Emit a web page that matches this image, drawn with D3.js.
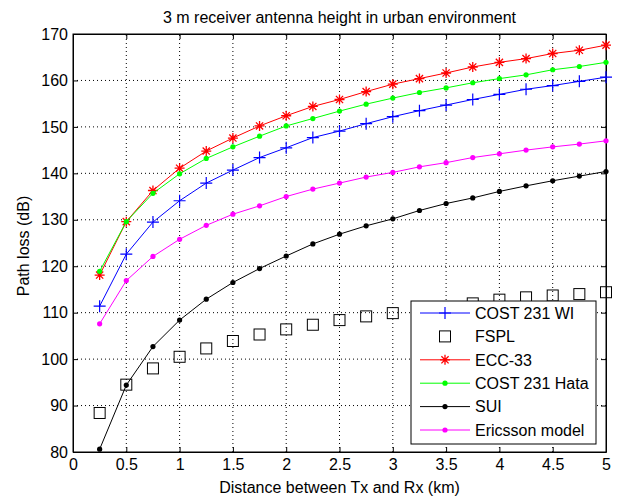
<!DOCTYPE html>
<html>
<head>
<meta charset="utf-8">
<script src="https://cdn.jsdelivr.net/npm/d3@7"></script>
<style>
  body { margin: 0; background: #fff; }
  svg { display: block; }
  text { font-family: "Liberation Sans", Arial, sans-serif; fill: #000; }
</style>
</head>
<body>
<svg id="chart" width="621" height="497"></svg>
<script>
// distances (km)
const distances = [0.25, 0.5, 0.75, 1, 1.25, 1.5, 1.75, 2, 2.25, 2.5, 2.75, 3, 3.25, 3.5, 3.75, 4, 4.25, 4.5, 4.75, 5];

// path loss values (dB)
const cost231WI = [111.4, 122.6, 129.5, 134.1, 137.9, 140.7, 143.4, 145.5, 147.7, 149.1, 150.7, 152.2, 153.5, 154.7, 155.9, 157.0, 158.1, 158.9, 159.8, 160.7];
const fspl = [88.4, 94.5, 98.0, 100.5, 102.3, 103.9, 105.3, 106.4, 107.4, 108.4, 109.2, 109.9, 110.6, 111.2, 112.0, 112.8, 113.3, 113.7, 114.0, 114.4];
const ecc33 = [118.1, 129.6, 136.3, 141.1, 144.8, 147.6, 150.2, 152.4, 154.4, 155.9, 157.6, 159.2, 160.4, 161.6, 162.9, 163.9, 164.7, 165.8, 166.5, 167.6];
const cost231Hata = [118.9, 129.6, 135.7, 139.9, 143.2, 145.7, 148.0, 150.2, 151.8, 153.4, 154.9, 156.2, 157.4, 158.4, 159.5, 160.4, 161.2, 162.3, 163.0, 163.9];
const sui = [80.6, 94.4, 102.7, 108.4, 112.9, 116.5, 119.5, 122.2, 124.8, 126.9, 128.7, 130.2, 132.0, 133.5, 134.7, 136.1, 137.3, 138.4, 139.4, 140.4];
const ericsson = [107.6, 116.9, 122.1, 125.8, 128.8, 131.2, 133.0, 135.0, 136.6, 137.9, 139.2, 140.2, 141.4, 142.3, 143.4, 144.2, 145.0, 145.7, 146.3, 147.0];

const xTicks = [0, 0.5, 1, 1.5, 2, 2.5, 3, 3.5, 4, 4.5, 5];
const yTicks = [80, 90, 100, 110, 120, 130, 140, 150, 160, 170];

const series = [
  { name: "COST 231 WI", values: cost231WI, color: "#0000ff", line: true, marker: "plus" },
  { name: "FSPL", values: fspl, color: "#000000", line: false, marker: "square" },
  { name: "ECC-33", values: ecc33, color: "#ff0000", line: true, marker: "star" },
  { name: "COST 231 Hata", values: cost231Hata, color: "#00ff00", line: true, marker: "dot" },
  { name: "SUI", values: sui, color: "#000000", line: true, marker: "dot" },
  { name: "Ericsson model", values: ericsson, color: "#ff00ff", line: true, marker: "dot" }
];

const svg = d3.select("#chart");
const margin = { left: 73, right: 15, top: 34, bottom: 45 };
const W = 621, H = 497;
const x = d3.scaleLinear().domain([0, 5]).range([margin.left, W - margin.right]);
const y = d3.scaleLinear().domain([80, 170]).range([H - margin.bottom, margin.top]);

// grid (dotted)
const grid = svg.append("g");
grid.selectAll("line.gx").data(xTicks.slice(1, -1)).join("line")
  .attr("x1", d => x(d)).attr("x2", d => x(d))
  .attr("y1", y(80)).attr("y2", y(170))
  .attr("stroke", "#000").attr("stroke-width", 1).attr("stroke-dasharray", "1,3");
grid.selectAll("line.gy").data(yTicks.slice(1, -1)).join("line")
  .attr("y1", d => y(d)).attr("y2", d => y(d))
  .attr("x1", x(0)).attr("x2", x(5))
  .attr("stroke", "#000").attr("stroke-width", 1).attr("stroke-dasharray", "1,3");

// axes, MATLAB style: inward ticks on all four sides
const fmt = d => String(d);
svg.append("g").attr("transform", `translate(0,${y(80)})`)
  .call(d3.axisBottom(x).tickValues(xTicks).tickFormat(fmt).tickSizeInner(-5).tickSizeOuter(0).tickPadding(7));
svg.append("g").attr("transform", `translate(0,${y(170)})`)
  .call(d3.axisTop(x).tickValues(xTicks).tickFormat("").tickSizeInner(-5).tickSizeOuter(0));
svg.append("g").attr("transform", `translate(${x(0)},0)`)
  .call(d3.axisLeft(y).tickValues(yTicks).tickFormat(fmt).tickSizeInner(-5).tickSizeOuter(0).tickPadding(5));
svg.append("g").attr("transform", `translate(${x(5)},0)`)
  .call(d3.axisRight(y).tickValues(yTicks).tickFormat("").tickSizeInner(-5).tickSizeOuter(0));
svg.selectAll(".domain").attr("stroke", "#000");
svg.selectAll(".tick line").attr("stroke", "#000");
svg.selectAll(".tick text").style("font-size", "16px").attr("fill", "#000");

svg.append("rect")
  .attr("x", x(0)).attr("y", y(170))
  .attr("width", x(5) - x(0)).attr("height", y(80) - y(170))
  .attr("fill", "none").attr("stroke", "#000").attr("stroke-width", 1);

// marker drawing
function drawMarker(g, type, color) {
  if (type === "plus") {
    g.append("path").attr("d", "M-6,0H6M0,-6V6").attr("stroke", color).attr("stroke-width", 1.2).attr("fill", "none");
  } else if (type === "star") {
    g.append("path").attr("d", "M-5,0H5M0,-5V5M-3.6,-3.6L3.6,3.6M-3.6,3.6L3.6,-3.6")
      .attr("stroke", color).attr("stroke-width", 1.3).attr("fill", "none");
  } else if (type === "square") {
    g.append("rect").attr("x", -5.5).attr("y", -5.5).attr("width", 11).attr("height", 11)
      .attr("fill", "none").attr("stroke", color).attr("stroke-width", 1);
  } else if (type === "dot") {
    g.append("circle").attr("r", 2.6).attr("fill", color);
  }
}

const line = d3.line().x((d, i) => x(distances[i])).y(d => y(d));
const plot = svg.append("g");
series.forEach(s => {
  if (s.line) {
    plot.append("path").datum(s.values).attr("d", line)
      .attr("fill", "none").attr("stroke", s.color).attr("stroke-width", 1);
  }
  s.values.forEach((v, i) => {
    const g = plot.append("g").attr("transform", `translate(${x(distances[i])},${y(v)})`);
    drawMarker(g, s.marker, s.color);
  });
});

// legend
const lg = svg.append("g").attr("transform", "translate(411,301)");
lg.append("rect").attr("width", 185).attr("height", 143)
  .attr("fill", "#fff").attr("stroke", "#000").attr("stroke-width", 1);
series.forEach((s, i) => {
  const cy = 12 + i * 23.4;
  const row = lg.append("g").attr("transform", `translate(0,${cy})`);
  if (s.line) {
    row.append("line").attr("x1", 9).attr("x2", 59).attr("y1", 0).attr("y2", 0)
      .attr("stroke", s.color).attr("stroke-width", 1);
  }
  drawMarker(row.append("g").attr("transform", "translate(34,0)"), s.marker, s.color);
  row.append("text").attr("x", 64).attr("y", 0).attr("dy", "0.36em")
    .style("font-size", "16px").text(s.name);
});

// titles
svg.append("text").attr("x", (x(0) + x(5)) / 2).attr("y", 23)
  .attr("text-anchor", "middle").style("font-size", "16px")
  .text("3 m receiver antenna height in urban environment");
svg.append("text").attr("x", (x(0) + x(5)) / 2).attr("y", 493)
  .attr("text-anchor", "middle").style("font-size", "16px")
  .text("Distance between Tx and Rx (km)");
svg.append("text")
  .attr("transform", `translate(29,${(y(80) + y(170)) / 2 + 3}) rotate(-90)`)
  .attr("text-anchor", "middle").style("font-size", "16px")
  .text("Path loss (dB)");
</script>
</body>
</html>
